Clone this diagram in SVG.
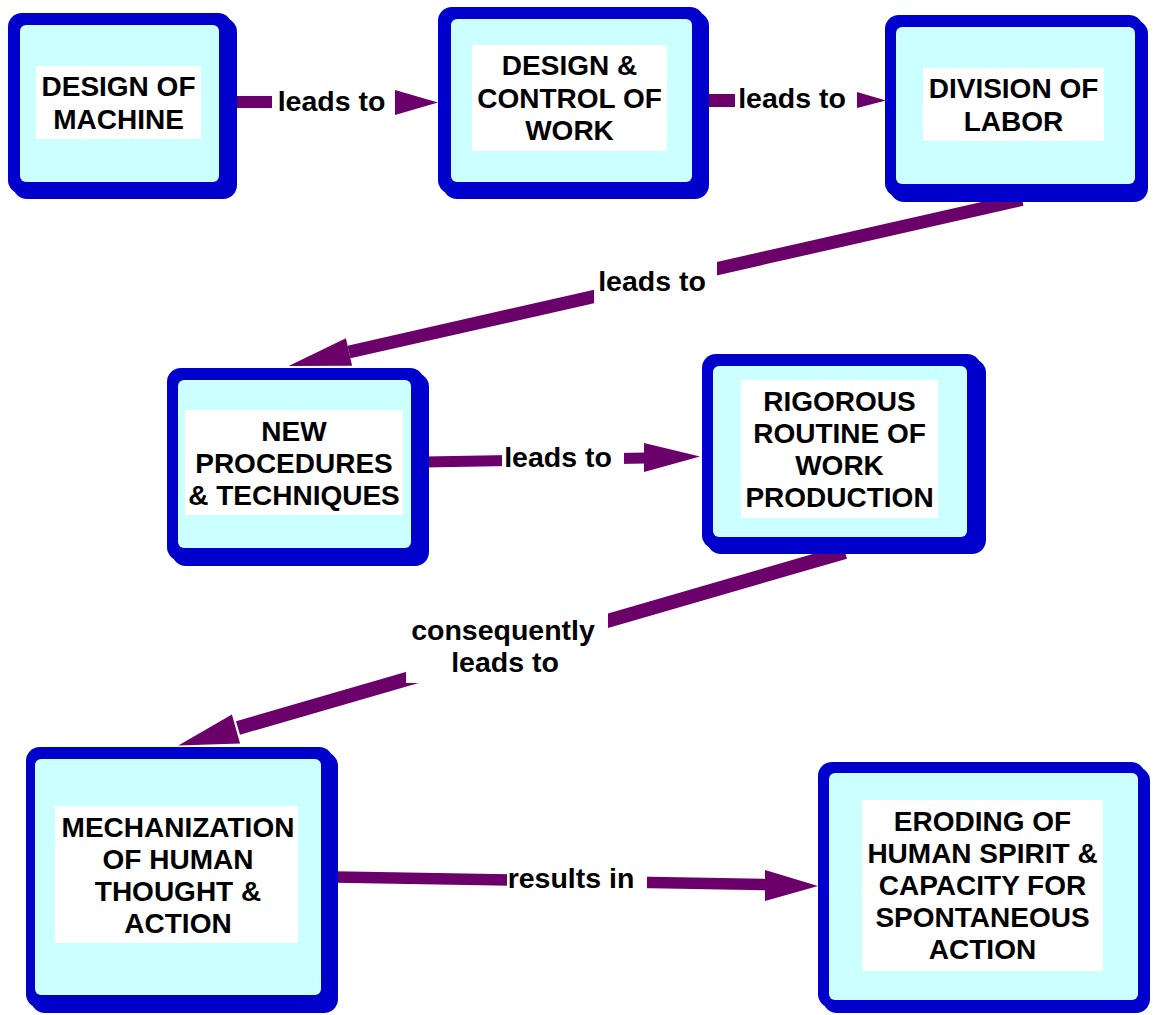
<svg xmlns="http://www.w3.org/2000/svg" width="1153" height="1015" viewBox="0 0 1153 1015">
<style>
.edge{stroke:#6B006B;fill:none}
.head{fill:#6B006B}
.lblbg{fill:#FFFFFF}
.lbl{font-family:"Liberation Sans",Arial,sans-serif;font-weight:bold;font-size:28.5px;fill:#000;text-anchor:middle}
.frame{fill:#0000CC}
.inner{fill:#CCFFFF}
.tbox{fill:#FFFFFF}
.nt{font-family:"Liberation Sans",Arial,sans-serif;font-weight:bold;font-size:28px;fill:#000;text-anchor:middle}
</style>
<rect width="1153" height="1015" fill="#FFFFFF"/>
<g id="connectors">
  <g id="c1">
    <line class="edge" x1="230" y1="102" x2="396" y2="102" stroke-width="12"/>
    <polygon class="head" points="395,90 438,102.5 395,115"/>
    <rect class="lblbg" x="272" y="84" width="123" height="36"/>
    <text class="lbl" x="331.5" y="111">leads to</text>
  </g>
  <g id="c2">
    <line class="edge" x1="705" y1="100.5" x2="858" y2="100.5" stroke-width="13"/>
    <polygon class="head" points="857,92 886,100.5 857,108"/>
    <rect class="lblbg" x="735" y="84" width="122" height="34"/>
    <text class="lbl" x="792" y="108">leads to</text>
  </g>
  <g id="c3">
    <line class="edge" x1="1022" y1="199.5" x2="349" y2="352" stroke-width="13"/>
    <polygon class="head" points="345.9,338.3 288.6,366 352.1,365.7"/>
    <rect class="lblbg" x="594" y="261" width="123" height="42"/>
    <text class="lbl" x="652" y="291">leads to</text>
  </g>
  <g id="c4">
    <line class="edge" x1="425" y1="462" x2="646" y2="458" stroke-width="11"/>
    <polygon class="head" points="644,443 700,456.5 644,472"/>
    <rect class="lblbg" x="502" y="440" width="122" height="36"/>
    <text class="lbl" x="558" y="467">leads to</text>
  </g>
  <g id="c5">
    <line class="edge" x1="845" y1="552" x2="238" y2="728" stroke-width="14"/>
    <polygon class="head" points="231.9,714.6 178.3,745.6 240.1,743.4"/>
    <rect class="lblbg" x="406" y="608" width="202" height="75"/>
    <text class="lbl" x="503" y="640">consequently</text>
    <text class="lbl" x="505" y="672">leads to</text>
  </g>
  <g id="c6">
    <line class="edge" x1="335" y1="877" x2="767" y2="884.5" stroke-width="11.5"/>
    <polygon class="head" points="765,870 818,886 765,901"/>
    <rect class="lblbg" x="507" y="862" width="140" height="36"/>
    <text class="lbl" x="571" y="888">results in</text>
  </g>
</g>
<g id="n1">
  <rect class="frame" x="13" y="18" width="224" height="181" rx="14"/>
  <rect class="frame" x="8" y="13" width="224" height="181" rx="14"/>
  <rect class="inner" x="20" y="25" width="199" height="157" rx="6"/>
  <rect class="tbox" x="36" y="66" width="165" height="73"/>
  <text class="nt" x="118.5" y="96">DESIGN OF</text>
  <text class="nt" x="118.5" y="129">MACHINE</text>
</g>
<g id="n2">
  <rect class="frame" x="443" y="12" width="266" height="187" rx="14"/>
  <rect class="frame" x="438" y="7" width="266" height="187" rx="14"/>
  <rect class="inner" x="451" y="19" width="241" height="163" rx="6"/>
  <rect class="tbox" x="472" y="45" width="195" height="106"/>
  <text class="nt" x="569.5" y="75">DESIGN &amp;</text>
  <text class="nt" x="569.5" y="107.5">CONTROL OF</text>
  <text class="nt" x="569.5" y="140">WORK</text>
</g>
<g id="n3">
  <rect class="frame" x="890" y="20" width="258" height="182" rx="14"/>
  <rect class="frame" x="885" y="15" width="258" height="182" rx="14"/>
  <rect class="inner" x="896" y="27" width="239" height="157" rx="6"/>
  <rect class="tbox" x="923" y="68" width="181" height="73"/>
  <text class="nt" x="1013.5" y="98">DIVISION OF</text>
  <text class="nt" x="1013.5" y="131">LABOR</text>
</g>
<g id="n4">
  <rect class="frame" x="172" y="373" width="257" height="193" rx="14"/>
  <rect class="frame" x="167" y="368" width="257" height="193" rx="14"/>
  <rect class="inner" x="178" y="380" width="233" height="168" rx="6"/>
  <rect class="tbox" x="185" y="410" width="218" height="105"/>
  <text class="nt" x="294" y="441">NEW</text>
  <text class="nt" x="294" y="473">PROCEDURES</text>
  <text class="nt" x="294" y="505">&amp; TECHNIQUES</text>
</g>
<g id="n5">
  <rect class="frame" x="707" y="359" width="279" height="195" rx="14"/>
  <rect class="frame" x="702" y="354" width="279" height="195" rx="14"/>
  <rect class="inner" x="713" y="366" width="254" height="171" rx="6"/>
  <rect class="tbox" x="741" y="380" width="197" height="138"/>
  <text class="nt" x="839.5" y="411">RIGOROUS</text>
  <text class="nt" x="839.5" y="443">ROUTINE OF</text>
  <text class="nt" x="839.5" y="475">WORK</text>
  <text class="nt" x="839.5" y="507">PRODUCTION</text>
</g>
<g id="n6">
  <rect class="frame" x="31" y="752" width="307" height="261" rx="14"/>
  <rect class="frame" x="26" y="747" width="307" height="261" rx="14"/>
  <rect class="inner" x="35" y="759" width="286" height="236" rx="6"/>
  <rect class="tbox" x="55" y="806" width="243" height="137"/>
  <text class="nt" x="178" y="837">MECHANIZATION</text>
  <text class="nt" x="178" y="869">OF HUMAN</text>
  <text class="nt" x="178" y="901">THOUGHT &amp;</text>
  <text class="nt" x="178" y="933">ACTION</text>
</g>
<g id="n7">
  <rect class="frame" x="823" y="767" width="327" height="246" rx="14"/>
  <rect class="frame" x="818" y="762" width="327" height="246" rx="14"/>
  <rect class="inner" x="829" y="773" width="309" height="227" rx="6"/>
  <rect class="tbox" x="862" y="800" width="241" height="171"/>
  <text class="nt" x="982.5" y="831">ERODING OF</text>
  <text class="nt" x="982.5" y="863">HUMAN SPIRIT &amp;</text>
  <text class="nt" x="982.5" y="895">CAPACITY FOR</text>
  <text class="nt" x="982.5" y="927">SPONTANEOUS</text>
  <text class="nt" x="982.5" y="959">ACTION</text>
</g>
</svg>
